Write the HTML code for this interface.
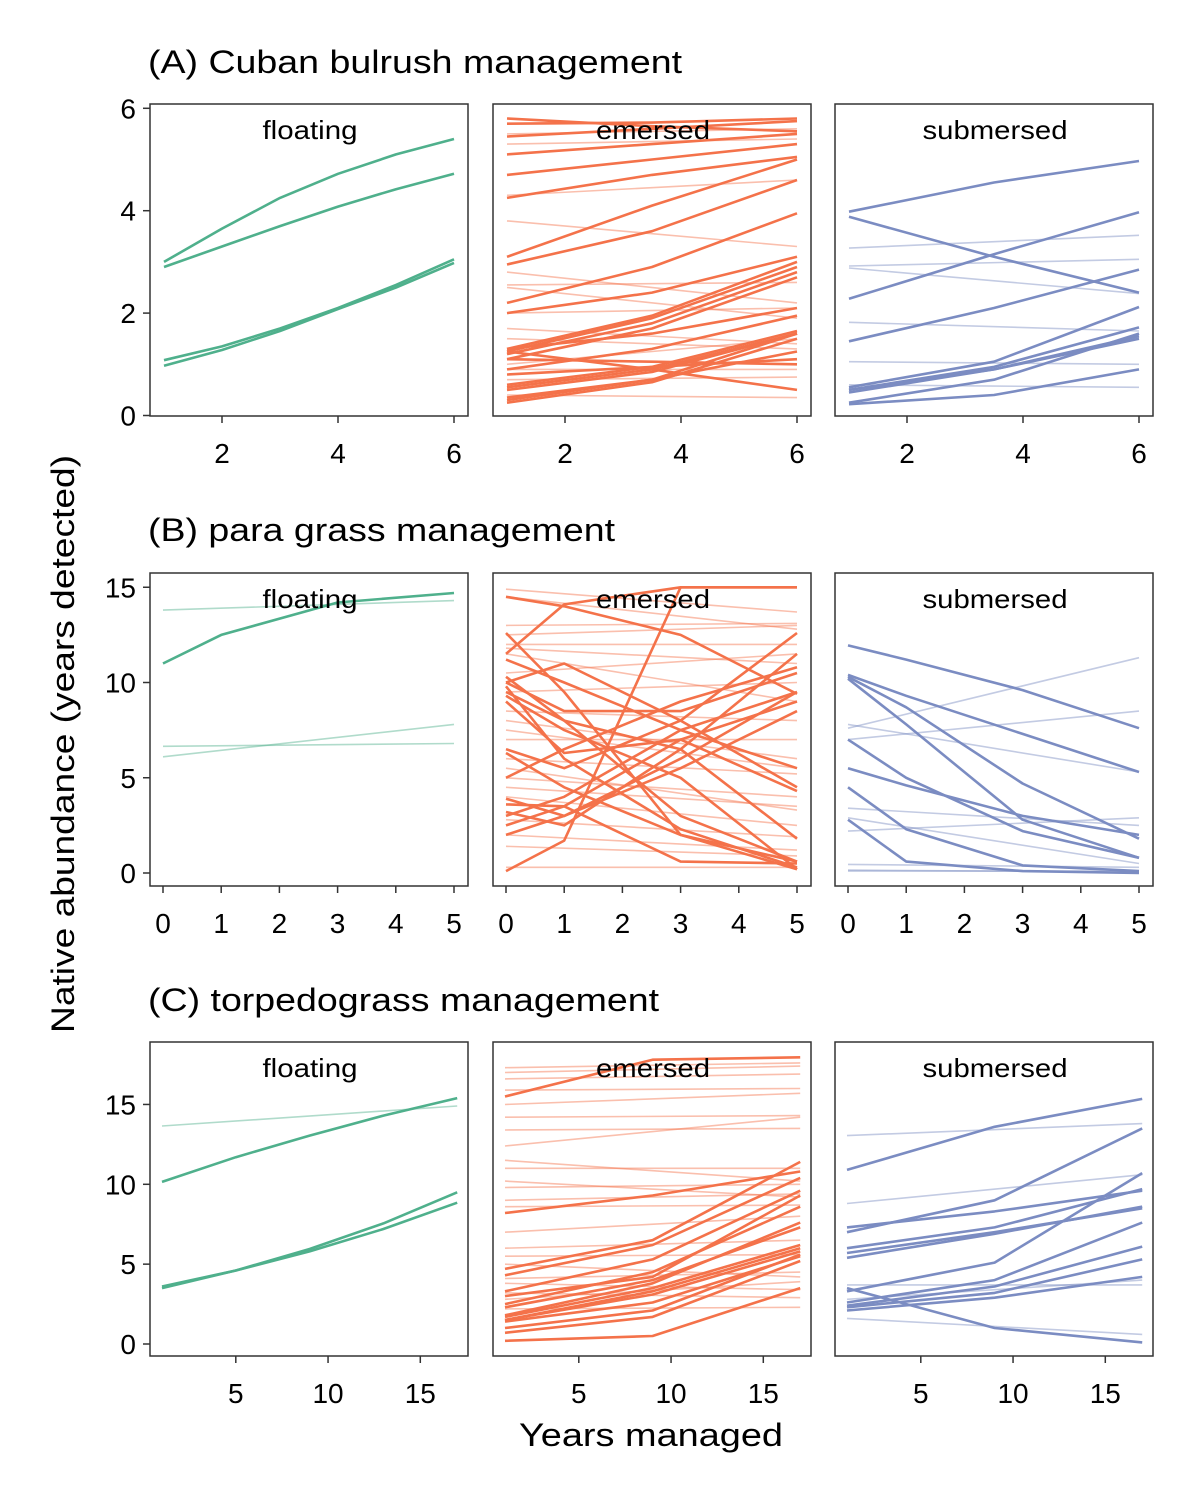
<!DOCTYPE html>
<html><head><meta charset="utf-8"><style>
body{margin:0;background:#fff;}
svg{font-family:"Liberation Sans",sans-serif;}
</style></head><body>
<svg id="chart" width="1200" height="1500" viewBox="0 0 1200 1500" xmlns="http://www.w3.org/2000/svg">
<text x="0" y="0" transform="translate(74,744) rotate(-90)" text-anchor="middle" font-size="32" textLength="578" lengthAdjust="spacingAndGlyphs" fill="#000">Native abundance (years detected)</text>
<text x="651" y="1446" text-anchor="middle" font-size="32" textLength="264" lengthAdjust="spacingAndGlyphs" fill="#000">Years managed</text>
</svg>
<script>
// ---- data ----
const rowTitles = ["(A) Cuban bulrush management","(B) para grass management","(C) torpedograss management"];
const titleLens = [534,467,511];
const facetNames = ["floating","emersed","submersed"];
const facetLens = [95,114,145];
const yTicksA = [0,2,4,6], xTicksA = [2,4,6];
const yTicksB = [0,5,10,15], xTicksB = [0,1,2,3,4,5];
const yTicksC = [0,5,10,15], xTicksC = [5,10,15];

const xsA6 = [1,2,3,4,5,6], xsA3 = [1,3.5,6], xsA2 = [1,6];
const xsB4 = [0,1,3,5], xsB2 = [0,5];
const xsC5 = [1,5,9,13,17], xsC3 = [1,9,17], xsC2 = [1,17];

const aFloatBold = [[3.0,3.65,4.25,4.72,5.1,5.4],[2.9,3.3,3.7,4.08,4.42,4.72],[1.08,1.35,1.7,2.1,2.55,3.05],[0.97,1.28,1.65,2.08,2.5,2.98]];
const aEmerBold = [[5.8,5.65,5.55],[5.7,5.72,5.8],[5.45,5.6,5.75],[5.1,5.3,5.5],[4.7,5.0,5.3],[4.25,4.7,5.05],[3.1,4.1,5.0],[2.95,3.6,4.6],[2.2,2.9,3.95],[2.0,2.4,3.1],[1.3,1.95,3.0],[1.25,1.9,2.9],[1.2,1.8,2.8],[1.1,1.7,2.7],[1.3,1.6,2.1],[0.9,1.3,1.95],[0.6,0.95,1.65],[0.55,0.9,1.6],[0.5,0.85,1.6],[0.3,0.7,1.6],[0.25,0.65,1.5],[1.25,0.9,0.5],[1.1,1.05,1.0],[0.8,0.95,1.1],[0.35,0.7,1.25]];
const aEmerFaint = [[5.5,5.6],[5.3,5.4],[4.3,4.6],[3.8,3.3],[2.8,2.2],[2.55,2.6],[2.5,1.9],[2.0,2.1],[1.7,1.4],[1.0,1.5],[0.9,0.9],[0.7,0.75],[0.4,0.35],[1.5,1.3]];
const aSubBold = [[3.98,4.55,4.97],[3.88,3.1,2.4],[2.28,3.15,3.97],[1.45,2.1,2.85],[0.55,1.05,2.12],[0.5,0.95,1.72],[0.45,0.9,1.55],[0.5,0.9,1.5],[0.25,0.7,1.6],[0.22,0.4,0.9]];
const aSubFaint = [[3.27,3.52],[2.92,3.05],[2.88,2.38],[1.82,1.65],[1.05,1.0],[0.6,0.55]];

const bFloatBold = [[11.0,12.5,14.2,14.7]];
const bFloatFaint = [[13.8,14.3],[6.65,6.8],[6.1,7.8]];
const bEmerBold = [[14.5,14.0,12.5,9.4],[12.6,9.5,2.0,0.2],[0.1,1.7,15.0,15.0],[11.2,10.0,7.5,5.5],[10.3,8.0,3.0,0.6],[10.0,11.0,8.0,4.5],[9.8,6.0,2.3,0.3],[9.5,8.0,6.5,1.8],[9.3,7.5,5.0,0.2],[6.5,5.5,8.0,12.6],[6.3,4.5,2.0,0.6],[5.0,6.5,9.0,10.8],[3.9,3.0,6.0,9.5],[3.2,2.5,6.5,11.5],[3.0,4.0,7.5,9.5],[2.5,3.5,7.0,9.0],[2.0,3.0,5.5,8.5],[3.6,3.5,0.6,0.5],[9.0,6.3,7.0,4.3],[10.0,8.5,8.5,10.5],[11.5,14.1,15.0,15.0]];
const bEmerFaint = [[14.9,13.7],[14.5,12.8],[13.0,13.1],[12.0,12.0],[11.8,11.0],[11.5,9.0],[10.5,11.5],[9.5,10.0],[8.5,8.0],[8.0,6.0],[7.5,5.5],[7.0,7.0],[6.0,5.2],[5.5,3.3],[5.0,4.0],[4.5,3.5],[4.0,2.5],[2.8,1.9],[2.0,1.2],[1.4,0.9],[0.3,0.3],[12.5,13.0]];
const bSubBold = [[11.95,11.2,9.6,7.6],[10.4,9.3,7.3,5.3],[10.3,8.7,4.7,1.8],[10.2,7.8,2.8,0.8],[7.0,5.0,2.2,0.8],[5.5,4.6,3.0,2.0],[4.5,2.3,0.4,0.1],[2.8,0.6,0.1,0.0]];
const bSubFaint = [[7.6,11.3],[7.0,8.5],[7.8,5.3],[3.4,2.5],[2.2,2.9],[2.9,0.5],[0.45,0.3],[0.1,0.1],[0.15,0.05]];

const cFloatBold = [[10.15,11.7,13.05,14.3,15.4],[3.6,4.6,5.95,7.55,9.5],[3.5,4.6,5.8,7.2,8.85]];
const cFloatFaint = [[13.65,14.9]];
const cEmerBold = [[15.5,17.8,17.95],[8.2,9.3,10.8],[4.7,6.5,11.4],[4.3,6.2,10.4],[3.3,5.3,9.6],[3.0,4.2,9.3],[2.5,4.5,8.6],[2.3,4.0,7.3],[1.8,3.8,7.6],[1.7,3.5,6.2],[1.5,3.3,6.0],[1.5,3.1,5.8],[1.4,2.6,5.5],[1.0,2.1,5.6],[0.7,1.7,5.2],[0.2,0.5,3.5]];
const cEmerFaint = [[17.3,17.6],[17.0,17.4],[16.6,16.9],[15.9,16.0],[15.0,15.7],[14.2,14.3],[13.4,13.5],[12.4,14.2],[11.5,10.2],[11.0,11.0],[10.2,9.2],[9.8,10.0],[9.0,9.4],[8.6,8.7],[7.0,8.0],[6.0,6.5],[5.5,5.6],[5.0,4.2],[4.1,4.5],[3.8,3.4],[3.2,2.9],[2.8,3.9],[2.2,2.3]];
const cSubBold = [[10.9,13.6,15.35],[7.0,9.0,13.5],[7.3,8.3,9.6],[6.0,7.3,9.7],[5.7,7.0,8.5],[5.4,6.9,8.6],[3.3,5.1,10.7],[3.5,1.0,0.1],[2.6,4.0,7.6],[2.4,3.6,6.1],[2.3,3.2,5.3],[2.1,2.9,4.2]];
const cSubFaint = [[13.05,13.8],[8.8,10.6],[3.7,3.7],[1.6,0.6],[2.8,4.0]];

// ---- drawing ----
const svg = document.getElementById('chart');
const NS = 'http://www.w3.org/2000/svg';
const colors = ['#4fb08c','#f4724a','#7b8cc2'];
const colX = [150,493,835], boxW = 318;
function mk(tag, attrs, parent){const e=document.createElementNS(NS,tag);for(const k in attrs)e.setAttribute(k,attrs[k]);(parent||svg).appendChild(e);return e;}

const rows = [
 {top:104,h:312,y0:415.5,ys:51.2,x0:164,xmin:1,xs:58,yT:yTicksA,xT:xTicksA,ty:73,
  series:[[[xsA6,aFloatBold,true]],[[xsA2,aEmerFaint,false],[xsA3,aEmerBold,true]],[[xsA2,aSubFaint,false],[xsA3,aSubBold,true]]]},
 {top:573,h:313,y0:873,ys:19.05,x0:163,xmin:0,xs:58.2,yT:yTicksB,xT:xTicksB,ty:541,
  series:[[[xsB2,bFloatFaint,false],[xsB4,bFloatBold,true]],[[xsB2,bEmerFaint,false],[xsB4,bEmerBold,true]],[[xsB2,bSubFaint,false],[xsB4,bSubBold,true]]]},
 {top:1042,h:314,y0:1344,ys:15.97,x0:162,xmin:1,xs:18.45,yT:yTicksC,xT:xTicksC,ty:1011,
  series:[[[xsC2,cFloatFaint,false],[xsC5,cFloatBold,true]],[[xsC2,cEmerFaint,false],[xsC3,cEmerBold,true]],[[xsC2,cSubFaint,false],[xsC3,cSubBold,true]]]}
];

rows.forEach((r,ri)=>{
  const t = mk('text',{x:148,y:r.ty,'font-size':32,textLength:titleLens[ri],lengthAdjust:'spacingAndGlyphs',fill:'#000'});
  
  
  t.textContent = rowTitles[ri];
  const yv = v => r.y0 - v*r.ys;
  for(let c=0;c<3;c++){
    const off = colX[c]-150;
    const xv = x => r.x0 + off + (x - r.xmin)*r.xs;
    const g = mk('g',{});
    
    
    const clipId='clip'+ri+c;
    const cp = mk('clipPath',{id:clipId},g);
    mk('rect',{x:colX[c],y:r.top,width:boxW,height:r.h},cp);
    const lg = mk('g',{'clip-path':'url(#'+clipId+')'},g);
    r.series[c].forEach(([xs,lines,bold])=>{
      lines.forEach(vals=>{
        const d = vals.map((v,i)=>(i?'L':'M')+xv(xs[i]).toFixed(1)+' '+yv(v).toFixed(1)).join(' ');
        const p = mk('path',{d:d,fill:'none',stroke:colors[c],'stroke-width':bold?2.6:1.6,'stroke-opacity':bold?1:0.45,'stroke-linejoin':'round'},lg);
        
        
      });
    });
    const box = mk('rect',{x:colX[c],y:r.top,width:boxW,height:r.h,fill:'none',stroke:'#333','stroke-width':1.5},g);
    
    
    const s = mk('text',{x:colX[c]+boxW/2+1,y:r.top+35,'text-anchor':'middle','font-size':26,textLength:facetLens[c],lengthAdjust:'spacingAndGlyphs',fill:'#000'},g);
    
    
    s.textContent = facetNames[c];
    const bot = r.top + r.h;
    r.xT.forEach(x=>{
      const X = xv(x);
      mk('line',{x1:X,x2:X,y1:bot,y2:bot+7,stroke:'#333','stroke-width':1.5},g);
      const tl = mk('text',{x:X,y:bot+47,'text-anchor':'middle','font-size':28,fill:'#000'},g);
      
      
      tl.textContent = x;
    });
    if(c===0){
      r.yT.forEach(v=>{
        const Y = yv(v);
        mk('line',{x1:143,x2:150,y1:Y,y2:Y,stroke:'#333','stroke-width':1.5},g);
        const tl = mk('text',{x:136,y:Y+10,'text-anchor':'end','font-size':28,fill:'#000'},g);
        
        
        tl.textContent = v;
      });
    }
  }
});
</script>
</body></html>
